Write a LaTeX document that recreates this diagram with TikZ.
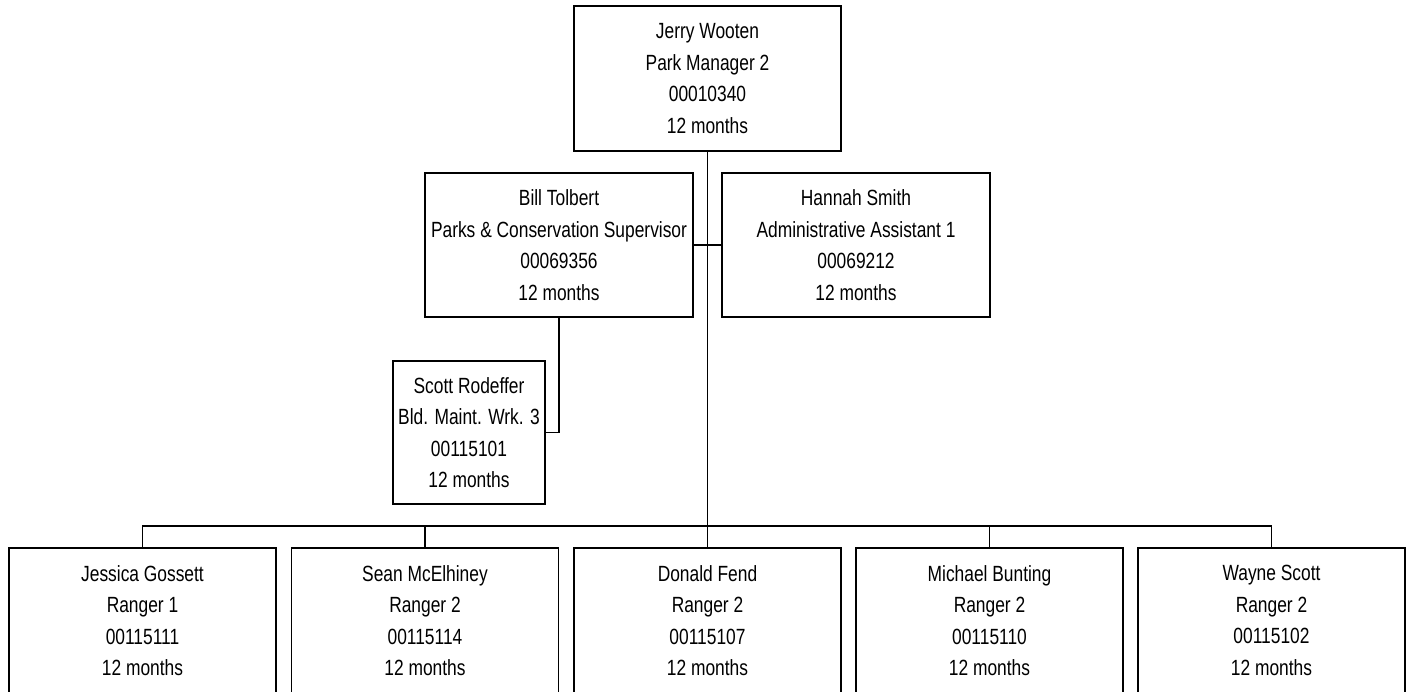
\documentclass[tikz,border=0pt]{standalone}
\usepackage{fontspec}
\setmainfont[FakeStretch=0.79]{Liberation Sans}
\usepackage{tikz}

\begin{document}
\begin{tikzpicture}[x=1pt,y=-1pt,
    person/.style={draw,line width=1.5pt,align=center,inner sep=0pt,
      minimum height=145pt,font=\fontsize{22}{31.5}\selectfont},
    link/.style={line width=1.3pt}]

  % Page window (bottom row runs past the lower edge)
  \clip (0,0) rectangle (1410,691);
  \useasboundingbox (0,0) rectangle (1410,691);

  % Manager
  \node[person,minimum width=267pt] (mgr) at (707.5,78.5)
    {Jerry Wooten\\Park Manager 2\\00010340\\12 months};

  % Second level
  \node[person,minimum width=268pt,minimum height=144pt] (sup) at (559,245)
    {Bill Tolbert\\Parks \& Conservation Supervisor\\00069356\\12 months};
  \node[person,minimum width=268pt,minimum height=144pt] (admin) at (856,245)
    {Hannah Smith\\Administrative Assistant 1\\00069212\\12 months};

  % Reports to the supervisor
  \node[person,minimum width=152pt,minimum height=143pt] (maint) at (469,432.5)
    {Scott Rodeffer\\Bld. Maint. Wrk. 3\\00115101\\12 months};

  % Rangers
  \node[person,minimum width=267pt] (rgA) at (142.5,620.5)
    {Jessica Gossett\\Ranger 1\\00115111\\12 months};
  \node[person,minimum width=267pt] (rgB) at (425,620.5)
    {Sean McElhiney\\Ranger 2\\00115114\\12 months};
  \node[person,minimum width=267pt] (rgC) at (707.5,620.5)
    {Donald Fend\\Ranger 2\\00115107\\12 months};
  \node[person,minimum width=267pt] (rgD) at (989.5,620.5)
    {Michael Bunting\\Ranger 2\\00115110\\12 months};
  \node[person,minimum width=267pt] (rgE) at (1271.5,620.5)
    {Wayne Scott\\Ranger 2\\00115102\\12 months};

  % Connectors
  \coordinate (bus) at (707.5,526);
  \draw[link] (mgr.south) -- (bus);
  \draw[link] (sup.east) -- (admin.west);
  \draw[link] (sup.south) |- (maint.east);
  \draw[link] (rgA.north) |- (bus) -| (rgE.north);
  \foreach \n in {rgB,rgC,rgD}
    \draw[link] (\n.north) -- (\n.north |- bus);

\end{tikzpicture}
\end{document}
